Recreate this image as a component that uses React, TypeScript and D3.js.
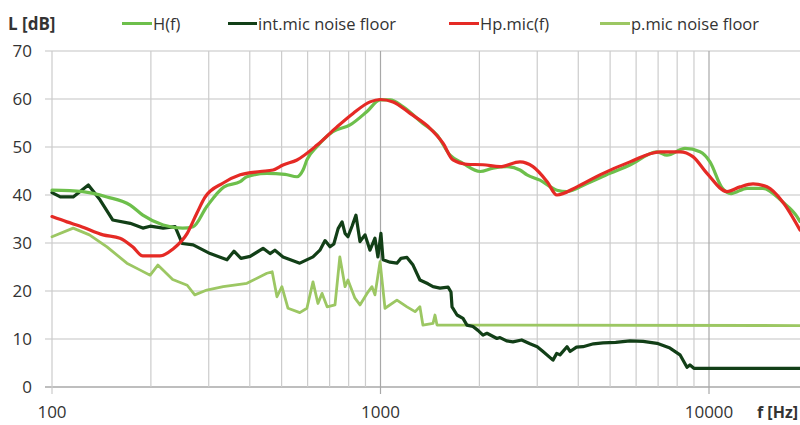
import React from "react";
import * as d3 from "d3";

// H(f)
const hFreq = [100, 124, 147, 173, 189, 218, 250, 269, 296, 334, 374, 392, 451, 512, 557, 581, 597, 641, 716, 808, 910, 997, 1069, 1170, 1346, 1486, 1628, 1783, 2009, 2200, 2427, 2658, 2793, 3058, 3444, 3696, 4253, 4995, 5747, 6946, 7448, 8450, 9389, 10070, 10955, 11670, 13055, 14590, 16790, 18530, 18920];
const hDb = [41.0, 40.7, 39.6, 37.9, 35.8, 33.75, 33.1, 33.4, 37.6, 41.7, 42.8, 43.8, 44.5, 44.3, 43.8, 45.2, 47.3, 50.1, 53.2, 54.6, 57.4, 59.8, 59.8, 58.4, 54.9, 52.5, 48.3, 46.6, 44.9, 45.6, 45.9, 45.2, 44.2, 43.1, 41.0, 40.7, 42.4, 44.5, 46.25, 49.0, 48.3, 49.7, 49.0, 46.9, 41.5, 40.3, 41.4, 41.4, 38.5, 35.5, 34.5];

// Hp.mic(f)
const hpFreq = [100, 111, 122, 143, 161, 176, 189, 213, 233, 258, 276, 292, 332, 374, 430, 471, 505, 557, 641, 737, 825, 929, 997, 1092, 1230, 1415, 1550, 1662, 1833, 2051, 2311, 2658, 2912, 3213, 3444, 3963, 4656, 5747, 7093, 8160, 8933, 9862, 11341, 12430, 13614, 15020, 16790, 18920];
const hpDb = [35.5, 34.4, 33.5, 31.7, 31.0, 29.2, 27.3, 27.3, 28.7, 32.0, 36.2, 39.5, 42.5, 44.2, 44.9, 45.2, 46.25, 47.3, 50.4, 54.2, 57.0, 59.4, 59.9, 59.4, 57.0, 53.9, 50.8, 47.3, 46.4, 46.3, 45.9, 46.9, 45.9, 42.8, 40.0, 41.7, 44.2, 46.9, 49.0, 49.0, 48.0, 44.5, 40.7, 41.7, 42.3, 41.7, 38.5, 32.7];

// int.mic noise floor
const intFreq = [100, 106, 116, 129, 140, 153, 173, 189, 199, 218, 237, 249, 269, 303, 341, 358, 376, 401, 439, 461, 477, 505, 568, 623, 654, 678, 702, 721, 743, 764, 780, 796, 819, 842, 866, 897, 929, 962, 982, 1003, 1018, 1069, 1122, 1154, 1204, 1256, 1318, 1395, 1445, 1517, 1606, 1639, 1651, 1710, 1783, 1833, 1912, 1980, 2051, 2109, 2262, 2311, 2420, 2530, 2690, 2851, 3000, 3124, 3350, 3440, 3519, 3696, 3776, 3950, 4134, 4450, 4755, 5200, 5747, 6300, 6946, 7606, 8160, 8570, 8750, 8995, 18920];
const intDb = [40.5, 39.6, 39.6, 42.1, 39.0, 34.8, 34.1, 33.1, 33.5, 33.1, 33.4, 29.9, 29.6, 27.8, 26.5, 28.3, 26.8, 27.2, 28.9, 27.8, 28.5, 27.1, 25.8, 27.1, 28.5, 30.5, 29.2, 29.8, 33.0, 34.4, 32.0, 31.3, 33.5, 35.8, 30.3, 31.7, 28.5, 31.0, 27.1, 32.0, 26.5, 26.0, 25.8, 26.8, 27.0, 25.4, 22.3, 21.5, 20.9, 20.6, 20.8, 19.8, 16.7, 15.0, 14.3, 12.9, 12.6, 11.8, 10.8, 11.2, 10.1, 10.3, 9.6, 9.4, 9.8, 9.0, 8.4, 7.4, 5.6, 7.0, 6.7, 8.4, 7.4, 8.3, 8.4, 9.0, 9.2, 9.3, 9.6, 9.5, 9.1, 8.1, 6.7, 4.1, 4.6, 3.9, 3.9];

// p.mic noise floor
const pFreq = [100, 116, 130, 147, 169, 185, 199, 210, 233, 258, 272, 296, 332, 392, 451, 468, 484, 501, 523, 568, 597, 623, 645, 664, 688, 727, 752, 780, 796, 836, 866, 910, 942, 962, 997, 1032, 1122, 1204, 1274, 1318, 1346, 1445, 1465, 1486, 18920];
const pDb = [31.3, 33.1, 31.7, 29.2, 25.8, 24.4, 23.3, 25.4, 22.4, 21.2, 19.2, 20.2, 20.9, 21.6, 23.7, 24.0, 18.8, 20.9, 16.4, 15.5, 16.4, 21.9, 17.4, 19.5, 16.7, 17.1, 27.1, 20.9, 22.3, 18.5, 17.1, 19.5, 20.9, 19.2, 26.1, 16.4, 18.1, 16.7, 15.7, 16.7, 12.9, 13.25, 15.0, 12.9, 12.8];

const yTicks = [0, 10, 20, 30, 40, 50, 60, 70];
const xLabels = [100, 1000, 10000];
const gridFreqs = [100, 200, 300, 400, 500, 600, 700, 800, 900, 1000, 2000, 3000, 4000, 5000, 6000, 7000, 8000, 9000, 10000, 20000];

const legendItems = [
  { name: "H(f)", color: "#6dbf4b", x1: 122, x2: 152 },
  { name: "int.mic noise floor", color: "#123f17", x1: 228, x2: 257 },
  { name: "Hp.mic(f)", color: "#e52a25", x1: 449, x2: 479 },
  { name: "p.mic noise floor", color: "#9cc763", x1: 600, x2: 630 },
];

const FONT = "'Open Sans', 'Liberation Sans', sans-serif";

export default function App() {
  const W = 800;
  const H = 425;
  const x = d3.scaleLog().domain([100, 10000]).range([52, 709]);
  const y = d3.scaleLinear().domain([0, 70]).range([387, 51]);
  const plotRight = 800;

  const mk = (f: number[], v: number[]) => f.map((ff, i) => [ff, v[i]] as [number, number]);
  const smooth = d3
    .line<[number, number]>()
    .x((d) => x(d[0]))
    .y((d) => y(d[1]))
    .curve(d3.curveMonotoneX);
  const linear = d3
    .line<[number, number]>()
    .x((d) => x(d[0]))
    .y((d) => y(d[1]))
    .curve(d3.curveLinear);

  const series = [
    { d: linear(mk(pFreq, pDb)), color: legendItems[3].color, w: 2.8 },
    { d: linear(mk(intFreq, intDb)), color: legendItems[1].color, w: 3.2 },
    { d: smooth(mk(hFreq, hDb)), color: legendItems[0].color, w: 3.2 },
    { d: smooth(mk(hpFreq, hpDb)), color: legendItems[2].color, w: 3.2 },
  ];

  return (
    <svg
      width={W}
      height={H}
      style={{ position: "absolute", left: 0, top: 0, background: "#fff" }}
      fontFamily={FONT}
    >
      <defs>
        <clipPath id="plotclip">
          <rect x={40} y={40} width={plotRight - 40} height={360} />
        </clipPath>
      </defs>
      {yTicks.map((t) => (
        <line
          key={"h" + t}
          x1={45}
          x2={plotRight}
          y1={y(t)}
          y2={y(t)}
          stroke={t === 0 ? "#a9a9a9" : "#c4c4c4"}
          strokeWidth={t === 0 ? 1.5 : 1.2}
        />
      ))}
      {gridFreqs
        .filter((f) => x(f) <= plotRight)
        .map((f) => {
          const major = f === 100 || f === 1000 || f === 10000;
          return (
            <line
              key={"v" + f}
              x1={x(f)}
              x2={x(f)}
              y1={y(70)}
              y2={major ? 394 : y(0)}
              stroke={major && f !== 100 ? "#a8a8a8" : "#cccccc"}
              strokeWidth={1.2}
            />
          );
        })}
      <g clipPath="url(#plotclip)">
        {series.map((s, i) => (
          <path
            key={i}
            d={s.d || ""}
            fill="none"
            stroke={s.color}
            strokeWidth={s.w}
            strokeLinejoin="round"
            strokeLinecap="round"
          />
        ))}
      </g>
      {yTicks.map((t) => (
        <text
          key={"yl" + t}
          x={32}
          y={y(t)}
          dy="0.36em"
          textAnchor="end"
          fontSize={17}
          fill="#333"
        >
          {t}
        </text>
      ))}
      {xLabels.map((f) => (
        <text
          key={"xl" + f}
          x={x(f)}
          y={418}
          textAnchor="middle"
          fontSize={17}
          fill="#333"
        >
          {f}
        </text>
      ))}
      <text x={798} y={418} textAnchor="end" fontSize={16} fontWeight="bold" fill="#333">
        f [Hz]
      </text>
      <text x={8} y={30} fontSize={17} fontWeight="bold" fill="#333">
        L [dB]
      </text>
      {legendItems.map((l) => (
        <g key={l.name}>
          <line x1={l.x1} x2={l.x2} y1={23.5} y2={23.5} stroke={l.color} strokeWidth={3} />
          <text x={l.x2 + 1} y={29.5} fontSize={16.5} fill="#333">
            {l.name}
          </text>
        </g>
      ))}
    </svg>
  );
}
